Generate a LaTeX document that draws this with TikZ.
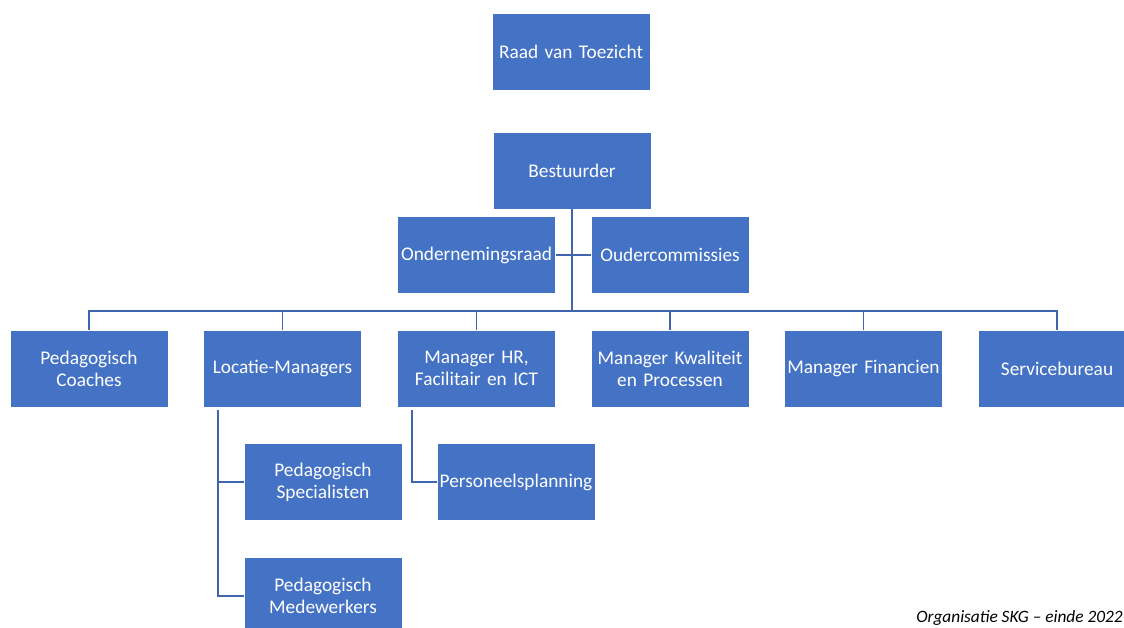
\documentclass[tikz,border=0pt]{standalone}
\usepackage{fontspec}
\setmainfont{Carlito}
\usetikzlibrary{positioning}
\definecolor{boxblue}{HTML}{4472C4}
\definecolor{lineblue}{HTML}{3F65B0}

\begin{document}
\begin{tikzpicture}[x=0.75pt, y=-0.75pt,
        orgbox/.style={rectangle, draw=white, line width=0.6pt, fill=boxblue, text=white,
                       minimum width=118.5pt, minimum height=57.75pt, text width=116pt,
                       inner sep=1pt, align=center,
                       font=\fontsize{14.5}{16.5}\selectfont},
        link/.style={draw=lineblue, line width=1.3pt}]
        \useasboundingbox (0,0) rectangle (1124,628);
        \begin{scope}
        \clip (0,0) rectangle (1124,628);
        \node[orgbox] at (571, 51.5) (RVT) {Raad van Toezicht};
        \node[orgbox] at (572, 170.5) (BEST) {Bestuurder};
        \node[orgbox] at (476.5, 255) (OR) {Ondernemingsraad};
        \node[orgbox] at (670, 255) (OC) {Oudercommissies};
        \node[orgbox] at (89, 368.5) (PC) {Pedagogisch\\Coaches};
        \node[orgbox] at (282.5, 368.5) (LM) {Locatie-Managers};
        \node[orgbox] at (476.5, 368.5) (HR) {Manager HR,\\Facilitair en ICT};
        \node[orgbox] at (670, 368.5) (KW) {Manager Kwaliteit\\en Processen};
        \node[orgbox] at (863.5, 368.5) (FIN) {Manager Financien};
        \node[orgbox] at (1057, 368.5) (SB) {Servicebureau};
        \node[orgbox] at (323, 482) (PS) {Pedagogisch\\Specialisten};
        \node[orgbox] at (323, 596) (PM) {Pedagogisch\\Medewerkers};
        \node[orgbox] at (516, 482) (PP) {Personeelsplanning};
        \end{scope}
        \coordinate (bus) at (572, 311);
        \coordinate (lmdown) at (218, 410);
        \coordinate (hrdown) at (412, 410);
        % trunk and bus
        \draw[link] (BEST.south) -- (bus);
        \draw[link] (OR.east) -- (OC.west);
        \foreach \n in {PC, LM, HR, KW, FIN, SB}
            \draw[link] (\n.north) |- (bus);
        % sub branches
        \draw[link] (lmdown) |- (PS.west);
        \draw[link] (lmdown) |- (PM.west);
        \draw[link] (hrdown) |- (PP.west);
        \node[anchor=base east, inner sep=0pt, font=\fontsize{13}{15}\selectfont\itshape] (CAP) at (1123, 622) {Organisatie SKG -- einde 2022};
\end{tikzpicture}
\end{document}
